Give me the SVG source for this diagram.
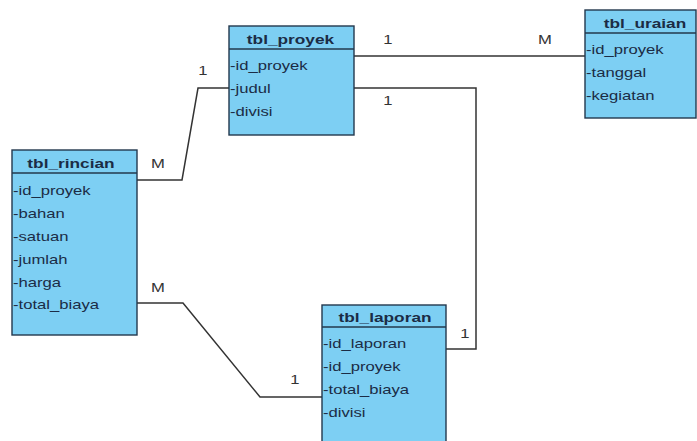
<svg xmlns="http://www.w3.org/2000/svg" width="697" height="441" viewBox="0 0 697 441">
<style>
.box{fill:#7dcff3;stroke:#23384d;stroke-width:1.4}
.sep{stroke:#23384d;stroke-width:1.4}
.t{font-family:"Liberation Sans",Arial,sans-serif;font-size:13.5px;font-weight:bold;fill:#1b2c45;text-anchor:middle}
.r{font-family:"Liberation Sans",Arial,sans-serif;font-size:13px;fill:#1b2c45}
.lbl{font-family:"Liberation Sans",Arial,sans-serif;font-size:13px;fill:#333;text-anchor:middle}
.ln{fill:none;stroke:#333;stroke-width:1.5}
</style>
<rect width="697" height="441" fill="#ffffff"/>
<g id="connectors">
<polyline class="ln" points="354,56 585,56"/>
<polyline class="ln" points="354,88 476,88 476,349 446,349"/>
<polyline class="ln" points="137,180 182,180 198,88 229,88"/>
<polyline class="ln" points="137,303 183,303 260,397 322,397"/>
<text class="lbl" transform="matrix(1.28 0 0 1 388 44)">1</text>
<text class="lbl" transform="matrix(1.28 0 0 1 545 44)">M</text>
<text class="lbl" transform="matrix(1.28 0 0 1 388 105)">1</text>
<text class="lbl" transform="matrix(1.28 0 0 1 465 338)">1</text>
<text class="lbl" transform="matrix(1.28 0 0 1 158 168)">M</text>
<text class="lbl" transform="matrix(1.28 0 0 1 203 75)">1</text>
<text class="lbl" transform="matrix(1.28 0 0 1 158 292)">M</text>
<text class="lbl" transform="matrix(1.28 0 0 1 295 384)">1</text>
</g>
<g id="tbl_proyek">
<rect class="box" x="229" y="26" width="125" height="109"/>
<line class="sep" x1="229" y1="49" x2="354" y2="49"/>
<text class="t" transform="matrix(1.28 0 0 1 290.5 44)">tbl_proyek</text>
<text class="r" transform="matrix(1.28 0 0 1 230 69.5)">-id_proyek</text>
<text class="r" transform="matrix(1.28 0 0 1 230 92.5)">-judul</text>
<text class="r" transform="matrix(1.28 0 0 1 230 115.5)">-divisi</text>
</g>
<g id="tbl_uraian">
<rect class="box" x="585" y="10" width="111" height="108"/>
<line class="sep" x1="585" y1="33" x2="696" y2="33"/>
<text class="t" transform="matrix(1.28 0 0 1 645 28)">tbl_uraian</text>
<text class="r" transform="matrix(1.28 0 0 1 586 54)">-id_proyek</text>
<text class="r" transform="matrix(1.28 0 0 1 586 77)">-tanggal</text>
<text class="r" transform="matrix(1.28 0 0 1 586 100)">-kegiatan</text>
</g>
<g id="tbl_rincian">
<rect class="box" x="12" y="150" width="125" height="185"/>
<line class="sep" x1="12" y1="173" x2="137" y2="173"/>
<text class="t" transform="matrix(1.28 0 0 1 71 168)">tbl_rincian</text>
<text class="r" transform="matrix(1.28 0 0 1 13 194.5)">-id_proyek</text>
<text class="r" transform="matrix(1.28 0 0 1 13 217.5)">-bahan</text>
<text class="r" transform="matrix(1.28 0 0 1 13 240.5)">-satuan</text>
<text class="r" transform="matrix(1.28 0 0 1 13 263.5)">-jumlah</text>
<text class="r" transform="matrix(1.28 0 0 1 13 286.5)">-harga</text>
<text class="r" transform="matrix(1.28 0 0 1 13 309)">-total_biaya</text>
</g>
<g id="tbl_laporan">
<rect class="box" x="322" y="305" width="124" height="145"/>
<line class="sep" x1="322" y1="327" x2="446" y2="327"/>
<text class="t" transform="matrix(1.28 0 0 1 385 322)">tbl_laporan</text>
<text class="r" transform="matrix(1.28 0 0 1 323 348)">-id_laporan</text>
<text class="r" transform="matrix(1.28 0 0 1 323 371)">-id_proyek</text>
<text class="r" transform="matrix(1.28 0 0 1 323 394)">-total_biaya</text>
<text class="r" transform="matrix(1.28 0 0 1 323 417)">-divisi</text>
</g>
</svg>
